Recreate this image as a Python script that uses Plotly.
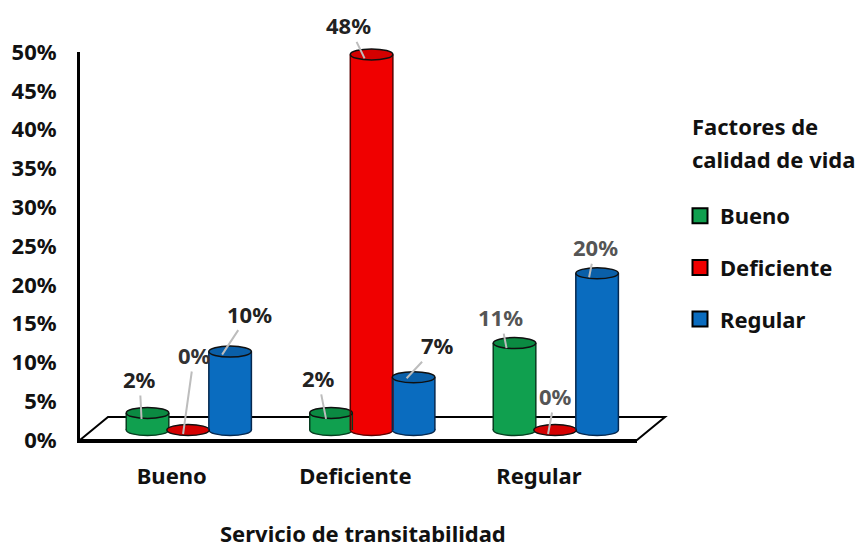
import plotly.graph_objects as go

# ---- data ----
categories = ["Bueno", "Deficiente", "Regular"]
series_names = ["Bueno", "Deficiente", "Regular"]
bueno_values = [2.2, 2.2, 11.2]
deficiente_values = [0.0, 48.4, 0.0]
regular_values = [10.1, 6.8, 20.2]
bueno_labels = ["2%", "2%", "11%"]
deficiente_labels = ["0%", "48%", "0%"]
regular_labels = ["10%", "7%", "20%"]
y_ticks = [0, 5, 10, 15, 20, 25, 30, 35, 40, 45, 50]
y_tick_labels = ["0%", "5%", "10%", "15%", "20%", "25%", "30%", "35%", "40%", "45%", "50%"]

# ---- style ----
FONT = "Noto Sans"
FS = 22
W, H = 861, 549
L, R_PX, T, B_PX = 80, 637, 20, 440
CAT = 183.5
PX_Y = 7.76
BASE_PX = 430
body = ["#10A04F", "#F00000", "#0A6CBF"]
top = ["#0B8A42", "#D40000", "#0A5FA8"]
edge = ["#063D20", "#5A0000", "#06284F"]
shift = [-0.226, -0.005, 0.224]
bar_w = 0.232
ell_h = 5.5 / PX_Y
all_values = [bueno_values, deficiente_values, regular_values]
all_labels = [bueno_labels, deficiente_labels, regular_labels]
# per label: leader end offset (dx, dy), text offset (ax, ay), colour
label_style = [
    [(-6, 6, -2, -40, "#222"), (-5, 6, -8, -41, "#222"), (-8, 5, -6, -31, "#555")],
    [(-5, 4, 11, -79, "#333"), (-7, 4, -16, -33, "#222"), (-7, 4, 7, -38, "#555")],
    [(-8, 3, 27, -41, "#222"), (-7, 1, 31, -33, "#222"), (-8, 4, 6, -30, "#555")],
]

fig = go.Figure()
# legend entries (main subplot carries the visible axes)
for i, name in enumerate(series_names):
    fig.add_trace(go.Scatter(
        x=categories, y=[None] * 3, name=name, mode="markers", legendgroup=name,
        marker=dict(symbol="square", size=15, color=body[i], line=dict(color="black", width=2)),
        xaxis="x", yaxis="y", showlegend=True))
# cylinder bodies
for i, name in enumerate(series_names):
    fig.add_trace(go.Bar(
        x=categories, y=all_values[i], name=name, showlegend=False,
        width=bar_w, offset=shift[i] - bar_w / 2,
        marker=dict(color=body[i], line=dict(width=0)),
        xaxis="x2", yaxis="y2", hoverinfo="skip"))

shapes = []
# floor
def px(x):
    return (x - L) / (R_PX - L)
def py(y):
    return (B_PX - y) / (B_PX - T)
shapes.append(dict(type="path", xref="paper", yref="paper", layer="below",
                   path=f"M {px(80)} {py(440)} L {px(108)} {py(417)} L {px(665)} {py(417)} L {px(637)} {py(440)} Z",
                   fillcolor="white", line=dict(color="black", width=2)))
annotations = []
for i in range(3):
    for j in range(3):
        v = all_values[i][j]
        cx = j + shift[i]
        hw = bar_w / 2
        if v > 0.5:
            # rounded base
            shapes.append(dict(type="circle", xref="x2", yref="y2", layer="below",
                               x0=cx - hw, x1=cx + hw, y0=-ell_h, y1=ell_h,
                               fillcolor=body[i], line=dict(color=edge[i], width=1.5)))
            # sides
            for s in (-1, 1):
                shapes.append(dict(type="line", xref="x2", yref="y2", layer="above",
                                   x0=cx + s * hw, x1=cx + s * hw, y0=0, y1=v,
                                   line=dict(color=edge[i], width=1.5)))
        shapes.append(dict(type="circle", xref="x2", yref="y2", layer="above",
                           x0=cx - hw, x1=cx + hw, y0=v - ell_h, y1=v + ell_h,
                           fillcolor=top[i], line=dict(color="#101010", width=1.5)))
        dx, dy, ax, ay, col = label_style[i][j]
        annotations.append(dict(
            x=cx + dx / CAT, y=v - dy / PX_Y, xref="x2", yref="y2",
            text=f"<b>{all_labels[i][j]}</b>", showarrow=True, arrowhead=0,
            arrowwidth=2, arrowcolor="#BDBDBD", ax=ax, ay=ay,
            font=dict(family=FONT, size=FS, color=col)))

for txt, xp, yp, anchor in [("Servicio de transitabilidad", 363, 533, "center"),
                            ("Factores de", 692, 126, "left"),
                            ("calidad de vida", 692, 159, "left")]:
    annotations.append(dict(x=px(xp), y=py(yp), xref="paper", yref="paper", showarrow=False,
                            xanchor=anchor, yanchor="middle", xshift=-2 if anchor == "left" else 0,
                            text=f"<b>{txt}</b>", font=dict(family=FONT, size=FS, color="#111")))

fig.update_layout(
    width=W, height=H, autosize=False,
    margin=dict(l=L, r=W - R_PX, t=T, b=H - B_PX, pad=0, autoexpand=False),
    paper_bgcolor="white", plot_bgcolor="rgba(0,0,0,0)",
    barmode="overlay",
    font=dict(family=FONT, color="#111"),
    shapes=shapes, annotations=annotations,
    xaxis=dict(type="category", categoryorder="array", categoryarray=categories,
               range=[-0.5, (R_PX - 172) / CAT], domain=[0, 1], anchor="y",
               showline=True, linecolor="black", linewidth=3, ticks="", showgrid=False, zeroline=False,
               tickfont=dict(family=FONT, size=FS, color="#111", weight="bold"),
               ticklabelstandoff=15),
    yaxis=dict(range=[0, 50], domain=[0, (B_PX - 52) / (B_PX - T)], tickvals=y_ticks, ticktext=y_tick_labels,
               anchor="x", showline=True, linecolor="black", linewidth=3, ticks="", showgrid=False, zeroline=False,
               tickfont=dict(family=FONT, size=FS, color="#111", weight="bold"),
               ticklabelstandoff=16),
    xaxis2=dict(type="category", categoryorder="array", categoryarray=categories, domain=[0, 1],
                range=[(L - 189) / CAT, (R_PX - 189) / CAT], visible=False, anchor="y2"),
    yaxis2=dict(anchor="x2", domain=[0, 1], visible=False,
                range=[(BASE_PX - B_PX) / PX_Y, (BASE_PX - T) / PX_Y]),
    legend=dict(x=px(680), xanchor="left", y=py(195), yanchor="top",
                font=dict(family=FONT, size=FS, color="#111", weight="bold"),
                tracegroupgap=20, itemwidth=30, bgcolor="rgba(0,0,0,0)"),
)
fig.write_html("out.html", config={"displayModeBar": False},
               post_script="document.body.style.margin='0';")
